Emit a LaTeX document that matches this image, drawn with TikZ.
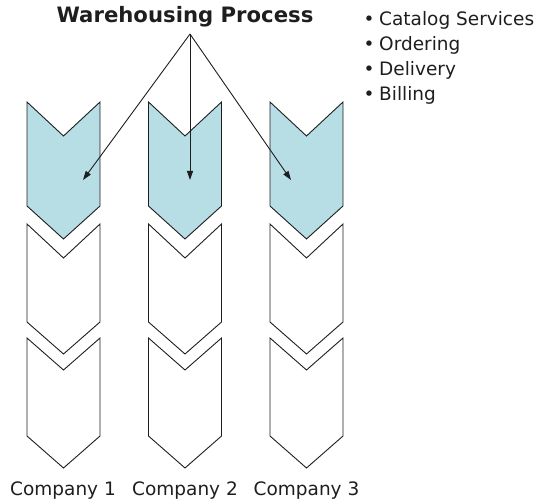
\documentclass[tikz,border=0pt]{standalone}
\usepackage{fontspec}
\setmainfont{DejaVu Sans}
\usetikzlibrary{arrows.meta}
\definecolor{chevblue}{RGB}{183,221,229}
\definecolor{inkgray}{RGB}{30,30,30}
\newcommand\chevshape[6]{%
  \draw[chevline, fill=#6] ({#1-36.5},{#2}) -- ({#1},{#3}) -- ({#1+36.5},{#2})
     -- ({#1+36.5},{#4}) -- ({#1},{#5}) -- ({#1-36.5},{#4}) -- cycle;}
\begin{document}
\begin{tikzpicture}[x=1bp,y=-1bp,
  chevline/.style={draw=inkgray, line width=0.9bp, line join=miter},
  lbl/.style={font=\fontsize{18.5bp}{22bp}\selectfont, text=inkgray, inner sep=0pt},
  ttl/.style={font=\fontsize{21.2bp}{25bp}\selectfont\bfseries, text=inkgray, inner sep=0pt},
  pointer/.style={draw=inkgray, line width=0.9bp, -{Triangle[length=9bp,width=6bp]}}]
\useasboundingbox (0,0) rectangle (539,503);
% chevrons: column centres 63.5, 185, 306.5
\foreach \cx in {63.5,185,306.5}{
  \chevshape{\cx}{102}{136}{206}{239}{chevblue}
  \chevshape{\cx}{224}{258}{322}{354}{white}
  \chevshape{\cx}{338}{370}{436}{468}{white}
}
% title and pointers
\node[ttl, anchor=base] (title) at (185,23) {Warehousing Process};
\coordinate (apex) at (190,34);
\coordinate (t1) at (83,180);
\coordinate (t2) at (190,180);
\coordinate (t3) at (291,180);
\draw[pointer] (apex) -- (t1);
\draw[pointer] (apex) -- (t2);
\draw[pointer] (apex) -- (t3);
% bullet list
\node[lbl, anchor=base west] (b1) at (363.5,26) {\makebox[15.5bp][l]{•}Catalog Services};
\node[lbl, anchor=base west] (b2) at (363.5,51) {\makebox[15.5bp][l]{•}Ordering};
\node[lbl, anchor=base west] (b3) at (363.5,76) {\makebox[15.5bp][l]{•}Delivery};
\node[lbl, anchor=base west] (b4) at (363.5,101) {\makebox[15.5bp][l]{•}Billing};
% company labels
\node[lbl, anchor=base] (c1) at (63,495) {Company 1};
\node[lbl, anchor=base] (c2) at (185,495) {Company 2};
\node[lbl, anchor=base] (c3) at (306.5,495) {Company 3};
\end{tikzpicture}
\end{document}
